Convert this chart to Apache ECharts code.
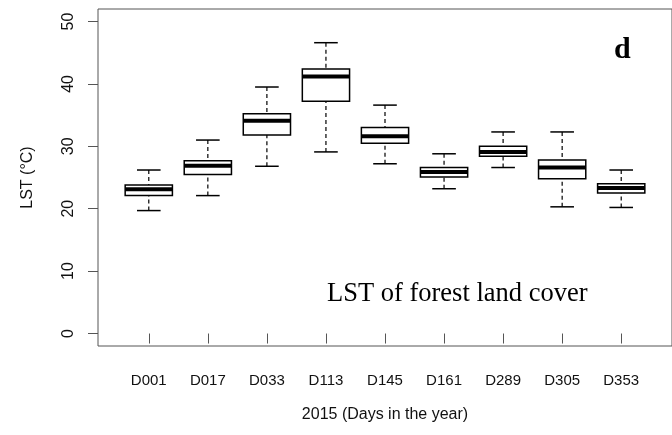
<!DOCTYPE html>
<html>
<head>
<meta charset="utf-8">
<script src="https://cdn.jsdelivr.net/npm/echarts@6/dist/echarts.min.js"></script>
<style>html,body{margin:0;padding:0;background:#fff}#c{width:672px;height:435px}</style>
</head>
<body>
<div id="c"></div>
<script>
const categories = ['D001','D017','D033','D113','D145','D161','D289','D305','D353'];
const lowWhisker = [19.7, 22.1, 26.8, 29.1, 27.2, 23.2, 26.6, 20.3, 20.2];
const q1 = [22.1, 25.5, 31.8, 37.2, 30.5, 25.1, 28.4, 24.8, 22.5];
const median = [23.1, 26.9, 34.1, 41.2, 31.6, 25.9, 29.1, 26.6, 23.3];
const q3 = [23.8, 27.7, 35.2, 42.4, 33.0, 26.6, 30.0, 27.8, 24.0];
const highWhisker = [26.2, 31.0, 39.5, 46.6, 36.6, 28.8, 32.3, 32.3, 26.2];
const yTicks = [0, 10, 20, 30, 40, 50];

const positions = categories.map((c, i) => i + 1);
const boxData = categories.map((c, i) => [positions[i], lowWhisker[i], q1[i], median[i], q3[i], highWhisker[i]]);

const sans = 'Liberation Sans, Arial, sans-serif';
const serif = 'Liberation Serif, Times New Roman, serif';

function renderItem(params, api) {
  const x = api.value(0);
  const lo = api.value(1), a = api.value(2), m = api.value(3), b = api.value(4), hi = api.value(5);
  const half = 0.4, cap = 0.2;
  const pL = api.coord([x - half, b]);
  const pR = api.coord([x + half, a]);
  const mL = api.coord([x - half, m]);
  const mR = api.coord([x + half, m]);
  const pHi = api.coord([x, hi]);
  const pLo = api.coord([x, lo]);
  const pQ3 = api.coord([x, b]);
  const pQ1 = api.coord([x, a]);
  const capL = api.coord([x - cap, hi])[0];
  const capR = api.coord([x + cap, hi])[0];
  return {
    type: 'group',
    children: [
      {type: 'line', shape: {x1: pHi[0], y1: pHi[1], x2: pQ3[0], y2: pQ3[1]}, style: {stroke: '#000', lineWidth: 1.2, lineDash: [4, 3]}},
      {type: 'line', shape: {x1: pLo[0], y1: pLo[1], x2: pQ1[0], y2: pQ1[1]}, style: {stroke: '#000', lineWidth: 1.2, lineDash: [4, 3]}},
      {type: 'line', shape: {x1: capL, y1: pHi[1], x2: capR, y2: pHi[1]}, style: {stroke: '#000', lineWidth: 1.5}},
      {type: 'line', shape: {x1: capL, y1: pLo[1], x2: capR, y2: pLo[1]}, style: {stroke: '#000', lineWidth: 1.5}},
      {type: 'rect', shape: {x: pL[0], y: pL[1], width: pR[0] - pL[0], height: pR[1] - pL[1]}, style: {stroke: '#000', lineWidth: 1.5, fill: '#fff'}},
      {type: 'line', shape: {x1: mL[0], y1: mL[1], x2: mR[0], y2: mR[1]}, style: {stroke: '#000', lineWidth: 4}}
    ]
  };
}

const chart = echarts.init(document.getElementById('c'), null, {renderer: 'canvas'});
chart.setOption({
  animation: false,
  backgroundColor: '#fff',
  grid: {left: 98, top: 9, width: 583, bottom: 89, show: true, borderColor: '#555', borderWidth: 1, backgroundColor: 'transparent'},
  xAxis: {
    type: 'value', min: 0.14, max: 9.86,
    name: '2015 (Days in the year)', nameLocation: 'middle', nameGap: 61,
    nameTextStyle: {fontFamily: sans, fontSize: 16, color: '#111'},
    axisLine: {show: false},
    splitLine: {show: false},
    axisTick: {show: true, length: 10, customValues: positions, lineStyle: {color: '#555'}},
    axisLabel: {customValues: positions, formatter: v => categories[Math.round(v) - 1], margin: 27, fontFamily: sans, fontSize: 15, color: '#111'}
  },
  yAxis: {
    type: 'value', min: -2, max: 52,
    name: 'LST (°C)', nameLocation: 'middle', nameGap: 62, nameRotate: 90,
    nameTextStyle: {fontFamily: sans, fontSize: 16, color: '#111'},
    axisLine: {show: false},
    splitLine: {show: false},
    axisTick: {show: true, length: 10, customValues: yTicks, lineStyle: {color: '#555'}},
    axisLabel: {customValues: yTicks, rotate: 90, margin: 21, fontFamily: sans, fontSize: 16, color: '#111'}
  },
  series: [{
    type: 'custom',
    renderItem: renderItem,
    encode: {x: 0, y: [1, 2, 3, 4, 5]},
    data: boxData,
    clip: false
  }],
  graphic: [
    {type: 'text', left: 327, top: 281, style: {text: 'LST of forest land cover', font: '26.5px ' + serif, fill: '#000'}},
    {type: 'text', left: 614, top: 35, style: {text: 'd', font: 'bold 30px ' + serif, fill: '#000'}}
  ]
});
</script>
</body>
</html>
